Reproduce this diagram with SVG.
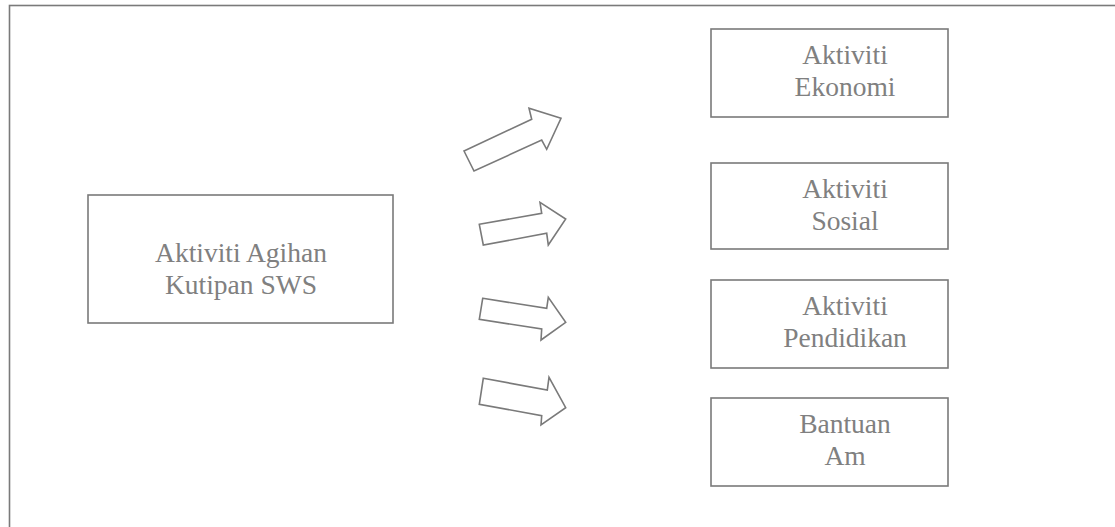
<svg xmlns="http://www.w3.org/2000/svg" width="1115" height="527" viewBox="0 0 1115 527">
<style>
.frame{fill:none;stroke:#7a7a7a;stroke-width:1.6}
.box{fill:#fff;stroke:#7a7a7a;stroke-width:1.6}
.arrow{fill:#fff;stroke:#7a7a7a;stroke-width:1.6;stroke-linejoin:miter}
text{font-family:"Liberation Serif","Times New Roman",serif;font-size:27.5px;fill:#808080;text-anchor:middle}
</style>
<rect width="1115" height="527" fill="#fff"/>
<rect class="frame" x="9.5" y="5.5" width="1120" height="540"/>
<g id="source">
<rect class="box" x="88" y="195" width="305" height="128"/>
<text x="241" y="262">Aktiviti Agihan</text>
<text x="241" y="294">Kutipan SWS</text>
</g>
<g id="ekonomi">
<rect class="box" x="711" y="29" width="237" height="88"/>
<text x="845" y="64">Aktiviti</text>
<text x="845" y="96">Ekonomi</text>
</g>
<g id="sosial">
<rect class="box" x="711" y="163" width="237" height="86"/>
<text x="845" y="198">Aktiviti</text>
<text x="845" y="230">Sosial</text>
</g>
<g id="pendidikan">
<rect class="box" x="711" y="280" width="237" height="88"/>
<text x="845" y="315">Aktiviti</text>
<text x="845" y="347">Pendidikan</text>
</g>
<g id="bantuan">
<rect class="box" x="711" y="398" width="237" height="88"/>
<text x="845" y="433">Bantuan</text>
<text x="845" y="465">Am</text>
</g>
<g id="connectors">
<polygon class="arrow" points="464,151 531.7,119.3 529,108.3 561,118.3 546.7,149.3 541.7,140 474,171"/>
<polygon class="arrow" points="479.3,224.3 541.7,213.3 540,202.3 565.7,219 548.3,245 546.7,233.3 483.3,245"/>
<polygon class="arrow" points="482.7,298.3 546.7,308.3 548.3,297.3 565.7,322.3 541,340 541.7,329 479.3,319.3"/>
<polygon class="arrow" points="483.3,378.3 547.3,390 549,377.3 565.7,407.7 541,425 541.7,415.7 479.3,404.3"/>
</g>
</svg>
